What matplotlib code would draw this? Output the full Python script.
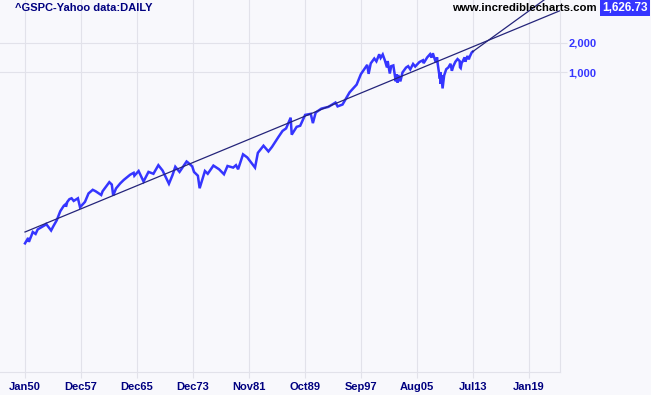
"""S&P 500 daily (log scale) with long-term trendline, incrediblecharts style."""
import matplotlib
matplotlib.use("Agg")
import matplotlib.pyplot as plt
import numpy as np

# S&P 500 close (decimal year, index level)
years = [1950.00, 1950.45, 1950.55, 1950.9, 1951.1, 1951.5, 1951.8, 1952.1, 1952.5, 1952.9,
         1953.0, 1953.7, 1954.0, 1954.5, 1955.0, 1955.5, 1955.75, 1955.8, 1956.0, 1956.3,
         1956.6, 1956.9, 1957.5, 1957.8, 1958.0, 1958.5, 1959.0, 1959.6, 1960.0, 1960.8,
         1961.0, 1961.5, 1961.95, 1962.3, 1962.5, 1962.9, 1963.5, 1964.0, 1964.9, 1965.4,
         1965.5, 1966.1, 1966.8, 1967.5, 1968.2, 1968.9, 1969.5, 1970.4, 1970.9, 1971.3,
         1971.9, 1972.9, 1973.1, 1973.7, 1973.95, 1974.5, 1974.75, 1975.5, 1975.9, 1976.7,
         1977.5, 1978.2, 1978.7, 1979.5, 1979.9, 1980.2, 1980.9, 1981.5, 1982.6, 1983.0,
         1983.8, 1984.5, 1985.0, 1985.9, 1986.5, 1987.0, 1987.65, 1987.8, 1988.5, 1989.0,
         1989.7, 1990.5, 1990.8, 1991.2, 1992.0, 1993.0, 1994.0, 1994.3, 1995.0, 1996.0,
         1997.0, 1997.6, 1998.5, 1998.7, 1999.0, 1999.5, 1999.8, 2000.2, 2000.4, 2000.7,
         2001.0, 2001.3, 2001.4, 2001.7, 2001.9, 2002.2, 2002.55, 2002.65, 2002.8, 2002.9,
         2003.2, 2003.5, 2004.0, 2004.3, 2004.6, 2005.0, 2005.3, 2005.9, 2006.4, 2006.5,
         2007.0, 2007.4, 2007.6, 2007.8, 2008.0, 2008.2, 2008.4, 2008.5, 2008.8, 2008.85,
         2008.9, 2009.0, 2009.18, 2009.4, 2009.7, 2010.0, 2010.3, 2010.5, 2010.7, 2011.0,
         2011.3, 2011.6, 2011.65, 2011.75, 2011.9, 2012.0, 2012.3, 2012.4, 2012.7, 2012.9,
         2013.0, 2013.3, 2013.45]
closes = [16.7, 19.0, 17.3, 20.0, 21.9, 20.9, 23.3, 24.0, 25.0, 26.0,
          26.5, 22.7, 25.0, 29.0, 36.0, 41.0, 42.5, 40.0, 45.0, 48.0,
          49.0, 46.0, 49.0, 39.5, 41.0, 45.0, 55.0, 60.0, 58.0, 53.0,
          58.0, 65.0, 72.0, 68.0, 52.3, 62.0, 70.0, 76.0, 86.0, 90.0,
          84.0, 94.0, 73.2, 92.0, 88.0, 108.0, 95.0, 69.3, 85.0, 104.0,
          92.0, 118.0, 115.0, 105.0, 92.0, 84.0, 62.3, 94.0, 88.0, 107.0,
          98.0, 87.0, 106.0, 102.0, 108.0, 98.0, 140.0, 130.0, 102.0, 145.0,
          172.0, 150.0, 167.0, 211.0, 245.0, 260.0, 336.0, 224.0, 270.0, 277.0,
          359.0, 368.0, 295.0, 380.0, 417.0, 435.0, 482.0, 440.0, 460.0, 615.0,
          740.0, 950.0, 1186.0, 957.0, 1229.0, 1380.0, 1290.0, 1527.0, 1400.0, 1520.0,
          1320.0, 1115.0, 1300.0, 965.0, 1150.0, 1170.0, 800.0, 950.0, 777.0, 930.0,
          800.0, 990.0, 1111.0, 1150.0, 1065.0, 1212.0, 1140.0, 1270.0, 1325.0, 1235.0,
          1418.0, 1530.0, 1410.0, 1565.0, 1410.0, 1270.0, 1420.0, 1200.0, 850.0, 1000.0,
          752.0, 930.0, 676.0, 920.0, 1070.0, 1115.0, 1217.0, 1030.0, 1150.0, 1280.0,
          1363.0, 1300.0, 1120.0, 1099.0, 1260.0, 1277.0, 1419.0, 1280.0, 1465.0, 1353.0,
          1426.0, 1590.0, 1626.73]

# trendlines: (year, level) end points
trend_years = [1950.0, 2026.0]
trend_levels = [21.9, 4380.0]
steep_years = [2013.45, 2024.0]
steep_levels = [1626.73, 5900.0]

tick_labels = ["Jan50", "Dec57", "Dec65", "Dec73", "Nov81", "Oct89",
               "Sep97", "Aug05", "Jul13", "Jan19"]
y_ticks = [1000, 2000]
last_close = "1,626.73"

DAYS_PER_YEAR = 252  # x axis is trading-day index


def to_idx(y):
    return (np.asarray(y) - 1950.0) * DAYS_PER_YEAR


BG = "#f8f8fc"
GRID = "#e2e2ea"
BLUE = "#3535ff"
NAVY = "#000080"
FONT = "Liberation Sans"

fig = plt.figure(figsize=(6.51, 3.95), dpi=100, facecolor=BG)
ax = fig.add_axes([0.0, 23 / 395, 560 / 651, 372 / 395], facecolor=BG)

ax.plot(to_idx(years), closes, color=BLUE, lw=1.8, solid_joinstyle="miter")
ax.plot(to_idx(trend_years), trend_levels, color="#24247a", lw=0.9)
ax.plot(to_idx(steep_years), steep_levels, color="#24247a", lw=0.9)

ax.set_yscale("log")
ax.set_ylim(0.773, 5585)
ax.set_xlim(-893, 19107)

xt = np.arange(len(tick_labels)) * 2000
ax.set_xticks(xt)
ax.set_xticklabels(tick_labels, fontsize=8, fontweight="bold", color=NAVY, family=FONT)
ax.yaxis.tick_right()
ax.set_yticks(y_ticks)
ax.set_yticklabels([f"{v:,}" for v in y_ticks], fontsize=8, fontweight="bold",
                   color=BLUE, family=FONT)
ax.yaxis.set_minor_locator(matplotlib.ticker.NullLocator())
ax.tick_params(axis="x", length=4, color=GRID, pad=3)
ax.tick_params(axis="y", length=5, color=GRID, pad=1)
ax.grid(True, color=GRID, lw=0.8)

for s in ["left", "top"]:
    ax.spines[s].set_visible(False)
for s in ["right", "bottom"]:
    ax.spines[s].set_color(GRID)

fig.text(15 / 651, 1 - 8 / 395, "^GSPC-Yahoo data:DAILY", ha="left", va="center",
         fontsize=8, fontweight="bold", color=NAVY, family=FONT)
fig.text(597 / 651, 1 - 8 / 395, "www.incrediblecharts.com", ha="right", va="center",
         fontsize=8.2, fontweight="bold", color="black", family=FONT)
fig.text(648 / 651, 1 - 8 / 395, last_close, ha="right", va="center",
         fontsize=8.5, fontweight="bold", color="white", family=FONT,
         bbox=dict(boxstyle="square,pad=0.2", fc=BLUE, ec="none"))

fig.savefig("out.png", dpi=100, facecolor=BG)
